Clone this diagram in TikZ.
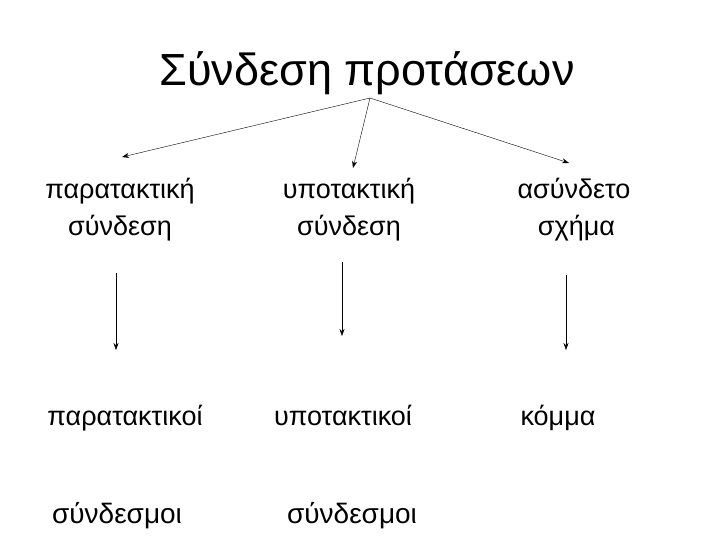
\documentclass[tikz,border=0pt]{standalone}
\usepackage{fontspec}
\setmainfont{Liberation Sans}
\usepackage{tikz}
\usetikzlibrary{arrows.meta, positioning}

\begin{document}
\begin{tikzpicture}[x=1pt,y=-1pt]

% Define styles
\tikzstyle{word} = [anchor=base, inner sep=0pt, align=center, font=\fontsize{27}{37}\selectfont]
\tikzstyle{arrow} = [->,>={Stealth[length=7pt,width=5pt]}]

\useasboundingbox (0,0) rectangle (728,546);

% Title
\node (title) [anchor=base, inner sep=0pt, font=\fontsize{45}{52}\selectfont] at (367,85) {Σύνδεση προτάσεων};

% Kinds of connection
\node (para) [word] at (120,235) {παρατακτική\\σύνδεση};
\node (ypo) [word] at (349,235) {υποτακτική\\σύνδεση};
\node (asyn) [word] at (574,235) {ασύνδετο\\\hspace*{5pt}σχήμα};

% Means of connection
\node (parasyn) [word] at (125,425) {παρατακτικοί};
\node (yposyn) [word] at (343,425) {υποτακτικοί};
\node (komma) [word] at (558,425) {κόμμα};
\node (parasm) [word, font=\fontsize{28}{37}\selectfont] at (117,523) {σύνδεσμοι};
\node (yposm) [word, font=\fontsize{28}{37}\selectfont] at (352,523) {σύνδεσμοι};

% Arrow ends
\coordinate (top) at (370,98);
\coordinate (paratip) at (122,157);
\coordinate (ypotip) at (353,168);
\coordinate (asyntip) at (569,163);
\coordinate (paradown) at (116,273);
\coordinate (paraend) at (116,350);
\coordinate (ypodown) at (342,262);
\coordinate (ypoend) at (342,336);
\coordinate (asyndown) at (566,275);
\coordinate (asynend) at (566,350);

% Draw arrows
\draw [arrow] (top) -- (paratip);
\draw [arrow] (top) -- (ypotip);
\draw [arrow] (top) -- (asyntip);
\draw [arrow] (paradown) -- (paraend);
\draw [arrow] (ypodown) -- (ypoend);
\draw [arrow] (asyndown) -- (asynend);

\end{tikzpicture}
\end{document}
